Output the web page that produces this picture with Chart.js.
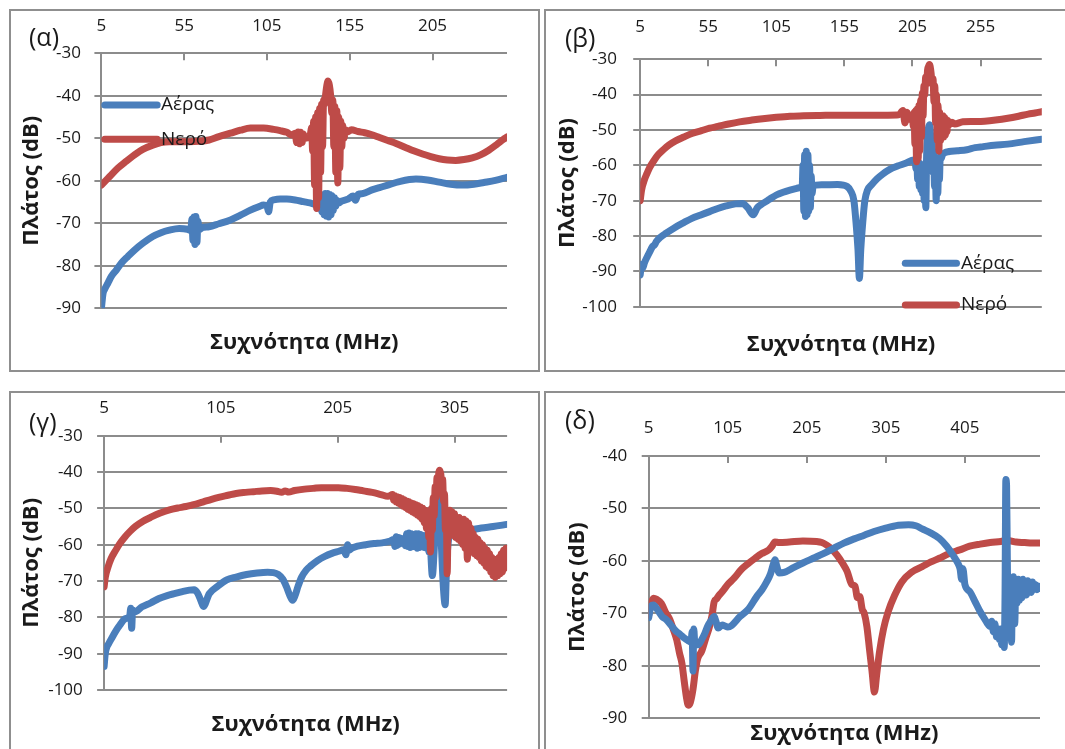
<!DOCTYPE html>
<html>
<head>
<meta charset="utf-8">
<script src="https://cdn.jsdelivr.net/npm/chart.js@4.4.1/dist/chart.umd.min.js"></script>
<style>
  html, body { margin: 0; padding: 0; background: #ffffff; }
  body { width: 1065px; height: 749px; position: relative; overflow: hidden; }
  .panel { position: absolute; box-sizing: border-box; border: 2px solid #8f8f8f; }
  canvas { position: absolute; }
</style>
</head>
<body>
<div class="panel" style="left:9px;top:9px;width:531px;height:363px"></div>
<div class="panel" style="left:544px;top:9px;width:530px;height:363px"></div>
<div class="panel" style="left:9px;top:391px;width:531px;height:400px"></div>
<div class="panel" style="left:544px;top:391px;width:530px;height:400px"></div>
<script>
// ---- (α) ----
const alphaTicks = [5, 55, 105, 155, 205];
const alphaDbTicks = [-90, -80, -70, -60, -50, -40, -30];
const alphaAirMHz = [
  5, 6, 7, 9, 11, 14, 17, 21, 25, 30,
  36, 41, 46, 52, 57, 59, 59.7, 60.3, 60.9, 61.5,
  62.1, 62.7, 63.3, 64, 66, 70, 76, 83, 89, 95,
  100, 103, 105, 106, 107, 109, 113, 117, 122, 127,
  131, 134, 135, 136, 136.7, 137.4, 138.1, 138.8, 139.5, 140.2,
  140.9, 141.6, 142.3, 143, 143.7, 144.4, 145.1, 145.8, 146.5, 147.2,
  148.5, 150, 154, 157, 158.5, 160, 163, 168, 173, 178,
  185, 195, 202, 209, 216, 223, 230, 236, 243, 250];
const alphaAirDb = [
  -90, -86.5, -85.5, -84, -82.5, -81, -79.4, -77.8, -76.3, -74.7,
  -73.1, -72.2, -71.6, -71.2, -71.4, -71.7, -69, -74, -68.5, -75,
  -68.4, -74.5, -69.5, -71.5, -71, -70.8, -70.1, -69.2, -68.1, -66.9,
  -66.1, -65.7, -65.9, -67.3, -65, -64.5, -64.3, -64.3, -64.5, -64.9,
  -65.2, -65.5, -65.2, -64.5, -66.5, -63.8, -67.3, -63.3, -68, -63,
  -68.3, -63, -68.5, -63.2, -68, -63.5, -67, -64, -66, -64.6,
  -65.2, -64.8, -64.3, -63.6, -64.6, -63.2, -63, -62.2, -61.6, -61,
  -60.2, -59.6, -59.8, -60.3, -60.8, -61, -60.8, -60.4, -59.9, -59.2];
const alphaWaterMHz = [
  5, 10, 15, 20, 25, 30, 36, 41, 46, 52,
  58, 64, 70, 76, 83, 89, 95, 103, 109, 113,
  117, 120, 122, 123, 123.8, 124.6, 125.4, 126.2, 127, 128,
  130, 131, 132, 132.6, 133.2, 133.8, 134.4, 135, 135.6, 136.2,
  136.8, 137.4, 138, 138.6, 139.2, 139.8, 140.5, 141.2, 141.9, 142.7,
  143.5, 144.2, 144.8, 145.4, 146, 146.6, 147.2, 147.8, 148.4, 149,
  149.6, 150.2, 150.8, 151.5, 152.5, 153.5, 156, 160, 164, 168,
  173, 178, 183, 189, 194, 199, 204, 209, 214, 219,
  224, 229, 234, 239, 244, 248, 250];
const alphaWaterDb = [
  -61, -59, -57, -55.4, -53.9, -52.6, -51.6, -51, -50.8, -50.8,
  -50.8, -50.7, -50.4, -49.6, -48.8, -48.1, -47.6, -47.6, -47.9, -48.2,
  -48.6, -49.2, -48.8, -51, -48.5, -51.3, -48.6, -51, -49, -50,
  -49.8, -49.5, -47.5, -53, -46, -61, -45, -66.5, -44, -64,
  -43, -58, -42, -52, -41, -42, -39.5, -37.5, -36.5, -37.5,
  -40, -44, -41, -52, -42.5, -58, -43.5, -60.5, -45, -57,
  -46, -52, -47, -50, -48, -48.5, -48, -48.4, -48.7, -49.1,
  -49.8, -50.5, -51.2, -52.2, -53, -53.7, -54.3, -54.8, -55.1, -55.2,
  -55, -54.6, -53.9, -52.8, -51.4, -50.2, -49.7];

// ---- (β) ----
const betaTicks = [5, 55, 105, 155, 205, 255];
const betaDbTicks = [-100, -90, -80, -70, -60, -50, -40, -30];
const betaAirMHz = [
  5, 6, 7, 8, 10, 12, 14, 15.5, 17, 20,
  24, 30, 37, 43, 49, 56, 62, 68, 75, 80,
  84, 88, 91, 95, 100, 105, 110, 115, 120, 123,
  124, 124.6, 125.2, 125.8, 126.4, 127, 127.6, 128.2, 128.8, 129.4,
  130, 130.6, 131.2, 132, 134, 140, 150, 157, 160, 162,
  163.5, 165, 166, 167, 168.5, 170, 172, 175, 179, 183,
  188, 194, 200, 206, 207, 207.6, 208.2, 208.8, 209.4, 210,
  210.6, 211.2, 211.8, 212.4, 213, 213.6, 214.2, 214.8, 215.4, 216,
  216.7, 217.4, 218.1, 218.8, 219.4, 220, 220.6, 221.2, 221.8, 222.4,
  223, 223.6, 224.2, 224.8, 225.4, 226.2, 227, 232, 238, 245,
  251, 257, 265, 275, 287, 300];
const betaAirDb = [
  -91, -88, -89, -87.7, -86, -84.5, -83, -82.5, -81.5, -80.3,
  -79.2, -77.7, -76.2, -75, -74.1, -73.1, -72.2, -71.5, -70.9, -70.8,
  -72, -74, -72, -70.8, -69.6, -68.4, -67.6, -67, -66.5, -66.3,
  -66, -60, -73, -57, -74.5, -56, -74, -57, -73, -60,
  -72, -63, -68, -66, -65.6, -65.5, -65.4, -66, -67.5, -70,
  -76, -84, -92, -84, -76, -70, -67, -65.5, -63.8, -62.5,
  -61.2, -60.2, -59.4, -58.5, -59, -61, -58.5, -64, -59, -66,
  -59.5, -67, -60, -68, -61, -70, -62, -72, -57, -52,
  -49.5, -48.5, -50, -55, -52, -62, -56, -66, -60, -70,
  -61, -68, -59, -64, -57.5, -58, -57, -56.1, -55.9, -55.6,
  -55, -54.7, -54.3, -54, -53.3, -52.6];
const betaWaterMHz = [
  5, 6, 8, 10, 12, 15, 18, 22, 26, 31,
  37, 43, 50, 56, 62, 70, 78, 87, 95, 105,
  115, 125, 137, 150, 162, 175, 187, 195, 198, 199.5,
  201, 203, 205, 205.6, 206.2, 206.8, 207.4, 208, 208.6, 209.2,
  209.8, 210.4, 211, 211.6, 212.2, 212.8, 213.4, 214, 214.7, 215.4,
  216.1, 216.8, 217.4, 218, 218.7, 219.4, 220.1, 220.8, 221.4, 222,
  222.6, 223.2, 223.8, 224.4, 225, 225.6, 226.2, 226.8, 227.4, 228,
  228.6, 229.2, 229.8, 230.4, 231, 232, 234, 236, 242, 250,
  258, 266, 275, 283, 290, 295, 300];
const betaWaterDb = [
  -70, -67, -64.2, -62.3, -60.6, -58.7, -57.1, -55.6, -54.3, -53.1,
  -52, -51, -50.2, -49.5, -49, -48.3, -47.7, -47.2, -46.8, -46.4,
  -46.1, -46, -45.9, -45.8, -45.8, -45.8, -45.8, -45.7, -44.5, -48,
  -45, -47, -46, -49, -45, -54, -44.5, -59, -44, -58,
  -43, -56, -41.5, -52, -39.5, -46, -37.5, -40, -35, -37,
  -33, -32, -31.5, -32, -34, -37, -35.5, -42, -37.5, -48,
  -40, -53, -43, -56, -45, -53, -46, -51.5, -46, -52,
  -46.5, -51.5, -47, -50.5, -47.3, -48.5, -47.8, -48.3, -47.7, -47.6,
  -47.5, -47.2, -46.7, -46.1, -45.5, -45.2, -44.8];

// ---- (γ) ----
const gammaTicks = [5, 105, 205, 305];
const gammaDbTicks = [-100, -90, -80, -70, -60, -50, -40, -30];
const gammaAirMHz = [
  5, 6, 7, 9, 11.4, 15, 18.6, 23, 27, 27.8,
  28.6, 29.4, 31, 37.5, 45, 52, 59, 66, 72, 78,
  82, 85, 88, 90, 95, 102, 110, 118, 127, 136,
  145, 150, 154, 158, 161, 164, 166.4, 168.5, 171, 174,
  178, 182, 188, 194, 200, 206, 210, 212, 213.5, 215,
  217, 222, 229, 236, 243, 249, 253, 254, 255, 256,
  257, 258, 259, 260, 262, 263, 264, 265, 266, 267,
  268, 269, 270, 271, 272, 273, 274, 275, 276, 277,
  278, 279, 280, 281, 282, 283, 284, 286, 287.5, 289,
  290, 291.5, 292.5, 294, 295.5, 297, 298, 299.5, 301.5, 304,
  310, 318, 328, 338, 350];
const gammaAirDb = [
  -93.5, -90, -88.5, -87.2, -85.8, -83.8, -82.1, -80.4, -79.5, -77.5,
  -83, -78, -78.5, -77.1, -76, -74.8, -74, -73.4, -72.9, -72.5,
  -72.4, -73.3, -75.5, -77, -73.5, -71.5, -69.7, -68.9, -68.2, -67.8,
  -67.6, -67.7, -68.2, -69.5, -71.5, -74, -75.3, -74, -71.5, -69,
  -67, -65.8, -64.3, -63.2, -62.4, -61.8, -61.4, -62.8, -60, -61.5,
  -61, -60.4, -60, -59.7, -59.5, -59.1, -58.6, -60.5, -57.8, -60.2,
  -58, -59.8, -58.2, -59.5, -58.4, -60.3, -57, -60.5, -56.8, -60.8,
  -57, -60.6, -57.2, -60.5, -57, -61, -57, -60.8, -57.2, -60.5,
  -57.5, -60.8, -57.5, -61, -58, -62, -60, -68.5, -62, -52,
  -47.5, -47, -50, -62, -72, -76.5, -68, -59.5, -57.5, -56.8,
  -56.3, -56, -55.4, -55, -54.4];
const gammaWaterMHz = [
  5, 6, 8.5, 11, 14.3, 18, 23, 27, 31.7, 38,
  46, 53, 61, 68, 75, 80, 85, 90, 97, 104,
  111, 118, 126, 133, 140, 147.6, 153, 157, 160, 163,
  168, 176.6, 184, 191, 198, 205.6, 213, 220, 227, 234.6,
  242, 248, 252, 253, 254, 255, 256, 257, 258, 259,
  260, 261, 262, 263, 264, 265, 266, 267, 268, 269,
  270, 271, 272, 273, 274, 275, 276, 277, 278, 279,
  280, 281, 282, 283, 283.8, 284.4, 285.2, 286, 286.8, 287.6,
  288.4, 289.2, 290, 290.8, 291.6, 292.4, 293.2, 294, 294.8, 295.6,
  296.4, 297.2, 298, 298.7, 299.4, 300.2, 301, 302, 303, 304,
  305, 306, 307, 308, 309, 310, 311, 312, 313, 314,
  315, 316, 317, 318, 319, 320, 321, 322, 323, 324,
  325, 326, 327, 328, 329, 330, 331, 332, 333, 334,
  335, 336, 337, 338, 339, 340, 341, 342, 343, 344,
  345, 346, 347, 348, 349, 350];
const gammaWaterDb = [
  -71.6, -69, -66, -63.8, -61.9, -59.9, -57.8, -56.4, -55, -53.6,
  -52.3, -51.3, -50.4, -49.9, -49.5, -49.1, -48.7, -48.2, -47.5, -46.9,
  -46.4, -45.9, -45.6, -45.4, -45.2, -45.1, -45.3, -45.6, -45.2, -45.5,
  -45.1, -44.7, -44.5, -44.3, -44.3, -44.3, -44.5, -44.8, -45.2, -45.6,
  -46.2, -46.7, -46.2, -47.8, -46.5, -48.2, -46.8, -48.6, -47, -49,
  -47.3, -49.4, -47.6, -49.8, -48, -50.3, -48.2, -50.6, -48.5, -51,
  -48.7, -51.4, -49, -51.8, -49.3, -52.3, -49.6, -53, -50, -54,
  -50.5, -55.5, -51, -58, -52, -62, -50, -56, -47, -52,
  -44, -47, -41.5, -43, -40, -39.5, -40.5, -43, -42, -48,
  -46, -56, -51, -68, -55, -51, -50.5, -56, -51, -57.5,
  -51.5, -58, -52.5, -58.5, -52.5, -59, -53, -60, -53, -61,
  -53.5, -64, -54, -62, -55.5, -62, -57, -62.5, -58, -63,
  -58.5, -63.5, -59.5, -64.5, -60, -65, -61, -66, -61.5, -66.5,
  -62.5, -67.5, -63.5, -68.5, -64, -69, -64.5, -68.5, -63.5, -68,
  -62.5, -67.5, -61.5, -66.5, -61, -65];

// ---- (δ) ----
const deltaTicks = [5, 105, 205, 305, 405];
const deltaDbTicks = [-90, -80, -70, -60, -50, -40];
const deltaAirMHz = [
  5, 8, 11, 16, 22, 27.4, 33, 39, 44.7, 50,
  55, 58.5, 60, 61, 62, 63.5, 67.7, 72, 76, 80,
  84.7, 87.8, 90, 93, 96, 98, 101.5, 105, 110, 120.5,
  131, 141.6, 148.3, 154.2, 159, 162.5, 164.7, 167, 170, 176.3,
  188, 200, 213, 226, 239, 251.8, 265, 277.7, 290, 303.6,
  320.9, 333.8, 343, 351, 362, 372.6, 382, 389.9, 396, 399,
  400.8, 402.5, 405, 411.5, 418, 424.4, 428, 433, 437, 439,
  441, 443, 445, 447, 448.5, 450, 451.5, 453, 454.7, 455.8,
  456.8, 457.7, 458.7, 459.7, 460.7, 461.7, 462.7, 464, 465, 466.5,
  468, 469.5, 471, 472.5, 474, 475.5, 477, 478.5, 480, 481.5,
  483, 484.5, 486, 487.5, 489, 490.5, 492, 494, 496, 498,
  500];
const deltaAirDb = [
  -70.8, -68.6, -68.4, -69.3, -70.6, -71.2, -72.2, -73.3, -74, -74.7,
  -75.2, -75.5, -73.5, -81, -73, -76, -76, -75, -73.8, -72.3,
  -71.2, -70.6, -71.5, -72.8, -72.4, -72.2, -72.4, -72.6, -72.3, -70.6,
  -69.2, -66.8, -65.5, -64, -62.5, -60.7, -59.8, -61, -62.3, -62.2,
  -61.3, -60.4, -59.5, -58.6, -57.6, -56.6, -55.8, -55.1, -54.4, -53.8,
  -53.2, -53.1, -53.3, -53.9, -54.7, -55.7, -57.2, -58.9, -60.4, -61.6,
  -63.5, -61.5, -64.5, -65.9, -67.8, -69.7, -70.6, -71.8, -72.5, -71.5,
  -73.5, -72, -74.5, -73, -75, -73, -76, -74, -76.5, -66,
  -44.5, -45.5, -60, -70, -64, -70, -66, -75.5, -66, -63,
  -72, -64, -68, -63.5, -67.5, -64, -67, -63.5, -66.5, -64,
  -66.5, -63.8, -66, -64, -66, -64, -65.5, -64.5, -65.5, -64.8,
  -65.2];
const deltaWaterMHz = [
  5, 8, 11, 15, 21, 26, 31.8, 36, 40.4, 44,
  47, 50, 53.3, 55, 57.6, 61, 64, 67, 72, 77,
  81.4, 85, 87.8, 91, 94.3, 99, 105, 113, 122.4, 131,
  139.6, 148, 156.9, 161, 164.7, 170, 182.8, 200, 217.3, 224,
  230.2, 237, 243.2, 250, 256, 262, 266, 269, 272, 275,
  277.7, 281, 284.2, 287.5, 290.6, 293.5, 297, 302, 307.9, 316,
  325.2, 337, 351, 362, 372.6, 385, 398.5, 411, 424.4, 437,
  450.3, 459, 470, 480.5, 490, 500];
const deltaWaterDb = [
  -70.3, -68.1, -67.1, -67.3, -68.1, -69.7, -71.2, -73, -75, -77.6,
  -79.5, -83, -86.5, -87.5, -87, -84.5, -81, -78.6, -77.2, -74.8,
  -72.8, -70.5, -67.8, -67.2, -66.5, -65.7, -64.5, -63.3, -61.6, -60.5,
  -59.5, -58.6, -57.9, -57.2, -56.4, -56.5, -56.4, -56.2, -56.3, -56.5,
  -57, -57.8, -58.9, -60.4, -62, -64.5, -64.8, -67, -66.8, -69.2,
  -70, -72.5, -76.7, -81, -85, -81.5, -77.3, -73, -69.7, -66.6,
  -64, -62.2, -61.1, -60.2, -59.5, -58.6, -57.9, -57.2, -56.8, -56.5,
  -56.3, -56.1, -56.4, -56.5, -56.6, -56.6];

// ---- styling ----
const BLUE = '#4A7EBB';
const RED = '#BE4B48';
const GRID = '#8c8c8c';
const INK = '#1a1a1a';
const FONT = '"Open Sans", "DejaVu Sans", sans-serif';
const TICK_SIZE = 17;
const TITLE_SIZE = 22;
const LEGEND_SIZE = 19;
const LETTER_SIZE = 25;
const SERIES_WIDTH = 7;
const Y_TICK_LEN = 7;

function pairs(xs, ys) {
  return xs.map((x, i) => ({ x: x, y: ys[i] }));
}

// Inner tick marks under the top axis, the panel letter and the in-plot legend.
function panelDecor(spec) {
  const cx = spec.canvas.x, cy = spec.canvas.y;
  return {
    id: 'panelDecor',
    beforeDatasetsDraw(chart) {
      const ctx = chart.ctx;
      const xs = chart.scales.x;
      const top = chart.chartArea.top;
      ctx.save();
      ctx.strokeStyle = GRID;
      ctx.lineWidth = 2;
      xs.ticks.forEach((t, i) => {
        if (i === 0) return;
        const px = Math.round(xs.getPixelForValue(t.value));
        ctx.beginPath();
        ctx.moveTo(px, top);
        ctx.lineTo(px, top + 7);
        ctx.stroke();
      });
      ctx.restore();
    },
    afterDatasetsDraw(chart) {
      const ctx = chart.ctx;
      ctx.save();
      if (spec.legend) {
        const L = spec.legend;
        chart.data.datasets.forEach((ds, i) => {
          const y = L.ys[i] - cy;
          ctx.strokeStyle = ds.borderColor;
          ctx.lineWidth = SERIES_WIDTH;
          ctx.lineCap = 'round';
          ctx.beginPath();
          ctx.moveTo(L.x1 - cx, y);
          ctx.lineTo(L.x2 - cx, y);
          ctx.stroke();
          ctx.fillStyle = INK;
          ctx.font = LEGEND_SIZE + 'px ' + FONT;
          ctx.textAlign = 'left';
          ctx.textBaseline = 'middle';
          ctx.fillText(ds.label, L.tx - cx, y);
        });
      }
      ctx.fillStyle = INK;
      ctx.font = LETTER_SIZE + 'px ' + FONT;
      ctx.textAlign = 'left';
      ctx.textBaseline = 'middle';
      ctx.fillText(spec.letter.text, spec.letter.x - cx, spec.letter.y - cy);
      ctx.restore();
    }
  };
}

function seriesStyle(color) {
  return {
    borderColor: color,
    backgroundColor: color,
    borderWidth: SERIES_WIDTH,
    borderCapStyle: 'round',
    borderJoinStyle: 'round',
    cubicInterpolationMode: 'monotone',
    pointRadius: 0,
    pointHoverRadius: 0,
    fill: false
  };
}

function buildPanel(spec) {
  const c = spec.canvas, p = spec.plot;
  const el = document.createElement('canvas');
  el.width = c.w; el.height = c.h;
  el.style.left = c.x + 'px'; el.style.top = c.y + 'px';
  el.style.width = c.w + 'px'; el.style.height = c.h + 'px';
  document.body.appendChild(el);

  new Chart(el, {
    type: 'line',
    data: {
      datasets: [
        Object.assign({ label: 'Αέρας', data: pairs(spec.air[0], spec.air[1]),
          xAxisID: 'x', yAxisID: 'y', order: spec.airOnTop ? 0 : 1 }, seriesStyle(BLUE)),
        Object.assign({ label: 'Νερό', data: pairs(spec.water[0], spec.water[1]),
          xAxisID: 'x', yAxisID: 'y', order: spec.airOnTop ? 1 : 0 }, seriesStyle(RED))
      ]
    },
    options: {
      responsive: false,
      animation: false,
      devicePixelRatio: 1,
      events: [],
      layout: { padding: { left: 0, top: 0, bottom: 0, right: c.x + c.w - p.r } },
      plugins: { legend: { display: false }, tooltip: { enabled: false } },
      scales: {
        x: {
          type: 'linear', position: 'top', min: spec.xMin, max: spec.xMax,
          afterBuildTicks: s => { s.ticks = spec.xTicks.map(v => ({ value: v })); },
          afterFit: s => { s.height = p.t - c.y; },
          grid: { display: false, drawTicks: false },
          border: { display: false },
          ticks: { font: { family: FONT, size: TICK_SIZE }, color: INK, maxRotation: 0,
                   autoSkip: false, padding: (p.t - spec.xLabelY) - 0.6 * TICK_SIZE,
                   callback: v => String(v) }
        },
        xb: {
          type: 'linear', position: 'bottom', min: 0, max: 1,
          afterFit: s => { s.height = c.y + c.h - p.b; },
          grid: { display: false, drawTicks: false },
          border: { display: false },
          ticks: { display: false },
          title: { display: true, text: 'Συχνότητα (MHz)', color: INK,
                   font: { family: FONT, size: TITLE_SIZE, weight: 'bold' },
                   padding: { top: 0, bottom: (c.y + c.h - spec.xTitleY) - 0.6 * TITLE_SIZE } }
        },
        y: {
          type: 'linear', position: 'left', min: spec.yMin, max: spec.yMax,
          afterBuildTicks: s => { s.ticks = spec.yTicks.map(v => ({ value: v })); },
          afterFit: s => { s.width = p.l - c.x; },
          grid: { color: GRID, lineWidth: 2, tickLength: Y_TICK_LEN, drawTicks: true },
          border: { display: true, color: GRID, width: 2 },
          ticks: { font: { family: FONT, size: TICK_SIZE }, color: INK,
                   padding: p.l - spec.yLabelRight - Y_TICK_LEN,
                   callback: v => String(v) },
          title: { display: true, text: 'Πλάτος (dB)', color: INK,
                   font: { family: FONT, size: TITLE_SIZE, weight: 'bold' },
                   padding: { top: (spec.yTitleX - c.x) - 0.6 * TITLE_SIZE, bottom: 0 } }
        }
      }
    },
    plugins: [panelDecor(spec)]
  });
}

const panels = [
  { letter: { text: '(α)', x: 29, y: 39 },
    canvas: { x: 11, y: 11, w: 527, h: 359 },
    plot: { l: 101.4, t: 53.3, r: 507, b: 308.3 },
    xMin: 5, xMax: 250, xTicks: alphaTicks, yMin: -90, yMax: -30, yTicks: alphaDbTicks,
    xLabelY: 26, yLabelRight: 81, yTitleX: 32, xTitleY: 343,
    legend: { x1: 104.8, x2: 157.2, tx: 161, ys: [105, 139.3] },
    air: [alphaAirMHz, alphaAirDb], water: [alphaWaterMHz, alphaWaterDb] },
  { letter: { text: '(β)', x: 565, y: 40 },
    canvas: { x: 546, y: 11, w: 519, h: 359 },
    plot: { l: 640.2, t: 59.3, r: 1041.8, b: 306.7 },
    xMin: 5, xMax: 300, xTicks: betaTicks, yMin: -100, yMax: -30, yTicks: betaDbTicks,
    xLabelY: 27.3, yLabelRight: 617, yTitleX: 567.5, xTitleY: 345,
    legend: { x1: 905.3, x2: 956.5, tx: 961, ys: [263.3, 305] },
    air: [betaAirMHz, betaAirDb], water: [betaWaterMHz, betaWaterDb] },
  { letter: { text: '(γ)', x: 29, y: 424 },
    canvas: { x: 11, y: 393, w: 527, h: 356 },
    plot: { l: 104.1, t: 435.7, r: 507.1, b: 690 },
    xMin: 5, xMax: 350, xTicks: gammaTicks, yMin: -100, yMax: -30, yTicks: gammaDbTicks,
    xLabelY: 408.3, yLabelRight: 82.8, yTitleX: 32, xTitleY: 725,
    legend: null,
    air: [gammaAirMHz, gammaAirDb], water: [gammaWaterMHz, gammaWaterDb] },
  { letter: { text: '(δ)', x: 565, y: 422 },
    canvas: { x: 546, y: 393, w: 519, h: 356 },
    plot: { l: 648.7, t: 456, r: 1040, b: 718.3 },
    xMin: 5, xMax: 500, xTicks: deltaTicks, yMin: -90, yMax: -40, yTicks: deltaDbTicks,
    xLabelY: 428.3, yLabelRight: 627.2, yTitleX: 577.8, xTitleY: 733.3,
    legend: null, airOnTop: true,
    air: [deltaAirMHz, deltaAirDb], water: [deltaWaterMHz, deltaWaterDb] }
];

function start() { panels.forEach(buildPanel); }
if (document.fonts && document.fonts.load) {
  Promise.all([
    document.fonts.load('17px "Open Sans"'),
    document.fonts.load('bold 22px "Open Sans"')
  ]).then(start, start);
} else {
  start();
}
</script>
</body>
</html>
